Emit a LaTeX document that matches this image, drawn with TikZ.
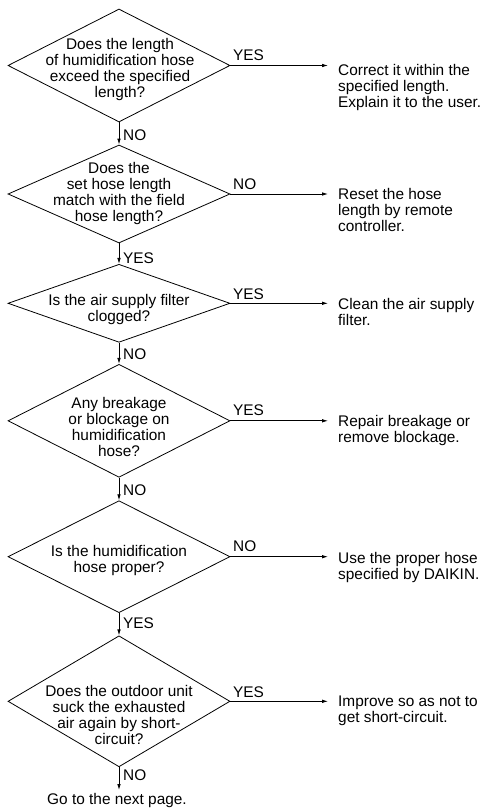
\documentclass[tikz,border=0pt]{standalone}
\usepackage{fontspec}
\setmainfont{Liberation Sans}
\usetikzlibrary{arrows.meta,shapes.geometric}

\begin{document}
\begin{tikzpicture}[x=1pt,y=-1pt,
  txt/.style={font=\fontsize{15.4}{16}\selectfont, inner sep=0pt},
  dia/.style={draw, diamond, inner sep=0pt, line width=0.8pt, minimum width=222pt},
  % multi-line nodes: the base anchor sits on the baseline of the last line
  qtext/.style={txt, align=center, anchor=base},
  atext/.style={txt, align=left, anchor=base west},
  lab/.style={txt, anchor=base west},
  flow/.style={line width=0.8pt, -{Latex[length=6pt,width=3.6pt]}}
]
\useasboundingbox (0,0) rectangle (487,808);

% decision diamonds
\node[dia, minimum height=113pt] (q1) at (119,65.5) {};
\node[dia, minimum height=98pt]  (q2) at (119,194) {};
\node[dia, minimum height=78pt]  (q3) at (119,303.3) {};
\node[dia, minimum height=113pt] (q4) at (119,420.8) {};
\node[dia, minimum height=112pt] (q5) at (119,556.7) {};
\node[dia, minimum height=131pt] (q6) at (119,701.3) {};

% questions
\node[qtext] (t1) at (120,97.4) {Does the length\\of humidification hose\\exceed the specified\\length?};
\node[qtext] (t2) at (119,221.2) {Does the\\set hose length\\match with the field\\hose length?};
\node[qtext] (t3) at (119,321.5) {Is the air supply filter\\clogged?};
\node[qtext] (t4) at (119,456.8) {Any breakage\\or blockage on\\humidification\\hose?};
\node[qtext] (t5) at (119,572.4) {Is the humidification\\hose proper?};
\node[qtext] (t6) at (119,744.5) {Does the outdoor unit\\suck the exhausted\\air again by short-\\circuit?};

% remedies
\node[atext] (a1) at (338,107.5) {Correct it within the\\specified length.\\Explain it to the user.};
\node[atext] (a2) at (338,231.8) {Reset the hose\\length by remote\\controller.};
\node[atext] (a3) at (338,325.3) {Clean the air supply\\filter.};
\node[atext] (a4) at (338,442) {Repair breakage or\\remove blockage.};
\node[atext] (a5) at (338,579) {Use the proper hose\\specified by DAIKIN.};
\node[atext] (a6) at (338,722.7) {Improve so as not to\\get short-circuit.};
\node[qtext] (next) at (117,804.5) {Go to the next page.};

% arrow ends in front of the remedies
\coordinate (e1) at (328,65.5);
\coordinate (e2) at (328,194);
\coordinate (e3) at (328,303.3);
\coordinate (e4) at (328,420.8);
\coordinate (e5) at (328,556.7);
\coordinate (e6) at (328,701.3);
\coordinate (e7) at (119,790);

% connectors
\draw[flow] (q1.east) -- (e1);
\draw[flow] (q2.east) -- (e2);
\draw[flow] (q3.east) -- (e3);
\draw[flow] (q4.east) -- (e4);
\draw[flow] (q5.east) -- (e5);
\draw[flow] (q6.east) -- (e6);
\draw[flow] (q1.south) -- (q2.north);
\draw[flow] (q2.south) -- (q3.north);
\draw[flow] (q3.south) -- (q4.north);
\draw[flow] (q4.south) -- (q5.north);
\draw[flow] (q5.south) -- (q6.north);
\draw[flow] (q6.south) -- (e7);

% branch labels
\node[lab] (r1) at (233,60) {YES};
\node[lab] (r2) at (233,189.3) {NO};
\node[lab] (r3) at (233,299.3) {YES};
\node[lab] (r4) at (233,415.8) {YES};
\node[lab] (r5) at (233,551.8) {NO};
\node[lab] (r6) at (233,697.2) {YES};
\node[lab] (d1) at (123,140.8) {NO};
\node[lab] (d2) at (123,263) {YES};
\node[lab] (d3) at (123,359.3) {NO};
\node[lab] (d4) at (123,495.2) {NO};
\node[lab] (d5) at (123,628) {YES};
\node[lab] (d6) at (123,780.8) {NO};
\end{tikzpicture}
\end{document}
